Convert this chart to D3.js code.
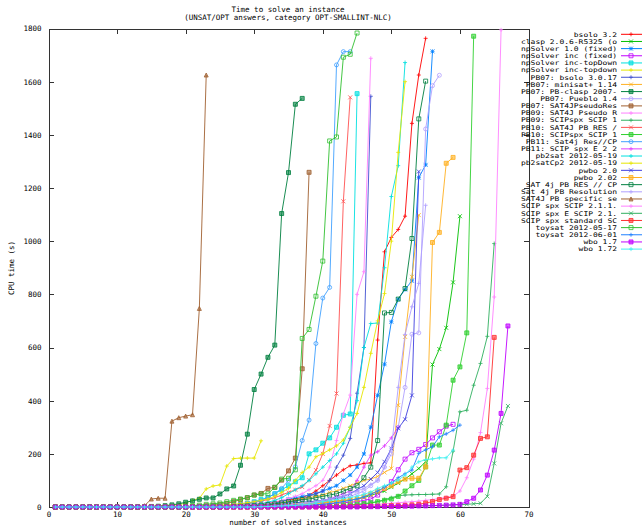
<!DOCTYPE html>
<html>
<head>
<meta charset="utf-8">
<script src="https://cdn.jsdelivr.net/npm/d3@7"></script>
<style>
  body { margin: 0; background: #fff; }
  svg text { font-family: "DejaVu Sans Mono", monospace; font-size: 7.5px; fill: #000; }
</style>
</head>
<body>
<svg id="chart" width="642" height="528"></svg>
<script>
// solver names, in key order
var solvers = [
  "bsolo 3.2", "clasp 2.0.6-R5325 (o", "npSolver 1.0 (fixed)", "npSolver inc (fixed)",
  "npSolver inc-topDown", "npSolver inc-topdown", "PB07: bsolo 3.0.17", "PB07: minisat+ 1.14",
  "PB07: PB-clasp 2007-", "PB07: Pueblo 1.4", "PB07: SAT4JPseudoRes", "PB09: SAT4J Pseudo R",
  "PB09: SCIPspx SCIP 1", "PB10: SAT4J PB RES /", "PB10: SCIPspx SCIP 1", "PB11: Sat4j Res//CP",
  "PB11: SCIP spx E 2 2", "pb2sat 2012-05-19", "pb2satCp2 2012-05-19", "pwbo 2.0",
  "pwbo 2.02", "SAT 4j PB RES // CP", "Sat 4j PB Resolution", "SAT4J PB specific se",
  "SCIP spx SCIP 2.1.1.", "SCIP spx E SCIP 2.1.", "SCIP spx standard SC", "toysat 2012-05-17",
  "toysat 2012-06-01", "wbo 1.7", "wbo 1.72"
];

var colors = [
  "#ff0000", "#00c000", "#0080ff", "#c000ff", "#00e0e0", "#e6e600", "#4050d0", "#ffb020",
  "#008040", "#b0a0ff", "#a06030", "#ff80ff", "#30b060", "#ff5050", "#30d030", "#40a0ff",
  "#e040ff", "#00e0e0", "#e6e600", "#4040e0", "#ffb020", "#008040", "#b0a0ff", "#a06030",
  "#ff80ff", "#30b060", "#ff3030", "#30c030", "#2080ff", "#c000ff", "#40f0f0"
];

var markers = [
  "plus", "cross", "star", "sqOpen", "sqFill", "plus", "plus", "cross",
  "sqFill", "circle", "sqFill", "plus", "plus", "cross", "sqFill", "circle",
  "plus", "plus", "plus", "cross", "sqFill", "sqOpen", "plus", "triFill",
  "plus", "cross", "sqFill", "sqOpen", "plus", "sqFill", "plus"
];

// CPU time of the i-th solved instance (x = 1, 2, 3 ...)
var bsolo32 = [0,0,0,0,0,0,0,0,0,0,0,0,0,0,0,0,0,0,0,0,
  1,1,2,2,3,4,5,6,8,10, 12,15,18,22,26,30,36,45,60,80,
  100,120,140,155,158,164,166, 628,960,1014,1044,1094,1443,1625,1763];
var clasp = [0,0,0,0,0,0,0,0,0,0,0,0,0,0,0,0,0,0,0,0,0,0,0,0,0,1,1,2,2,3,
  4,5,6,7,8,10,12,14,16,18, 20,22,24,27,30,36,44,52,60,75,
  90,105,125,145,170, 536,594,674,845,1094];
var npSolver10 = [0,0,0,0,0,0,0,0,0,0,0,0,0,0,0,0,0,0,0,0,0,0,0,0,0,
  1,2,3,4,6,8,10,14,20,30, 35,40,45,50,60,70,80,100,120,150,
  200,300,420,537,697,782,818,851,1239,1287,1714];
var npSolverInc = [0,0,0,0,0,0,0,0,0,0,0,0,0,0,0,0,0,0,0,0,0,0,0,0,0,0,0,0,0,0,
  1,1,2,2,3,4,5,6,8,10,12,14,16,18,
  20,25,30,45,70,95,140,180,204,217,235,260,283,304,311];
var npSolverTopDown = [0,0,0,0,0,0,0,0,0,0,0,0,0,0,0,0,0,0,0,0,
  1,1,2,3,4,6,8,10,14,20, 28,36,50,65,80,95,110,200,215,240,
  260,300,345,350,1555];
var npSolverTopdown = [0,0,0,0,0,0,0,0,0,0,0,0,0,0,
  3,4,5,6,8,15,25,33, 68,79,83,154,182,184,184,184,249];
var bsolo3017 = [0,0,0,0,0,0,0,0,0,0,0,0,0,0,0,0,0,0,0,0,0,0,0,0,0,
  1,2,3,4,5,6,8,10,13,17, 22,30,40,50,
  60,100,150,195,258,428,600,1545];
var minisat = [0,0,0,0,0,0,0,0,0,0,0,0,0,0,0,0,0,0,0,0,0,0,0,0,0,
  1,2,3,4,5,7,9,12,15,20, 25,30,35,40,45,55,60,70,80,90,
  100,105,115,130,145,383,640,866,1098];
var pbClasp07 = [0,0,0,0,0,0,0,0,0,0,0,0,0,0,
  2,3,5,8,12, 18,23,29,34,34,49,68,79,
  157,274,442,500,563,609,1104,1258,1515,1537];
var pueblo = [0,0,0,0,0,0,0,0,0,0,0,0,0,0,0,0,0,0,0,0,0,0,0,0,0,0,0,0,
  1,2,3,4,5,6,8,10,12,15, 18,22,26,30,35,40,50,60,80,
  100,150,200,300,450,650,655,1422,1585,1624];
var sat4jPseudoRes07 = [0,0,0,0,0,0,0,0,0,0,0,0,0,0,0,0,0,0,0,0,
  2,3,5,7,10,14,20,28,35,45, 51,70,74,101,136,184,520,1259];
var sat4jPseudo09 = [0,0,0,0,0,0,0,0,0,0,0,0,0,0,0,0,0,0,0,0,0,0,
  1,2,3,4,5,6,8,10,13,16, 20,25,32,40,50,65,80,
  100,150,250,350,421,800,885,1688];
var scipspx09 = [0,0,0,0,0,0,0,0,0,0,0,0,0,0,0,0,0,0,0,0,0,0,0,0,0,0,0,0,0,0,0,0,0,0,0,
  1,1,2,2,3,3,4,5,6,8, 10,15,20,28,35,42,
  45,46,47,47,48,49,76,210,358,364,458,540,642,991];
var sat4jRes10 = [0,0,0,0,0,0,0,0,0,0,0,0,0,0,0,0,0,0,0,0,
  1,2,3,4,5,6,8,10,13,17, 22,28,35,45,55,65,75,
  101,139,200,305,427,1150,1541];
var scipspx10 = [0,0,0,0,0,0,0,0,0,0,0,0,0,0,0,0,0,0,0,0,0,0,0,0,0,0,0,0,0,0,0,0,0,0,0,
  1,1,2,2,3,4,5,6,8,10, 13,16,20,25,30,40,60,80,100,
  151,233,233,308,477,527,655,1771];
var sat4jResCP11 = [0,0,0,0,0,0,0,0,0,0,0,0,0,0,0,0,0,0,0,0,
  1,2,3,4,5,6,8,10,13,17, 25,35,50,70,100,151,
  250,327,615,786,826,1663,1713,1713];
var scipSpxE11 = [0,0,0,0,0,0,0,0,0,0,0,0,0,0,0,0,0,0,0,0,0,0,0,0,0,0,0,0,0,0,
  1,2,3,4,5,6,8,10,14,20, 30,40,50,60,100,150,195,208,230,260,300];
var pb2sat = [0,0,0,0,0,0,0,0,0,0,0,0,0,0,0,0,0,0,0,0,0,0,0,0,0,
  1,2,3,5,8,12,18,25,35, 50,65,80,100,125,150,175,200,240,300,
  400,600,690,692,900,1168,1284,1672];
var pb2satCp2 = [0,0,0,0,0,0,0,0,0,0,0,0,0,0,0,0,0,0,0,0,
  1,2,3,4,6,8,10,13,16, 20,25,30,40,55,70,100,130,150,189,
  201,215,230,252,300,352,450,578,700,803,1000,1334,1600];
var pwbo20 = [0,0,0,0,0,0,0,0,0,0,0,0,0,0,0,0,0,0,0,0,0,0,0,0,0,
  1,1,2,3,4,5,6,8,10,13, 16,18,20,22,25,30,35,40,50,65,
  80,105,130,170,220,296,330,420,1262];
var pwbo202 = [0,0,0,0,0,0,0,0,0,0,0,0,0,0,0,0,0,0,0,0,0,0,0,0,0,0,0,0,0,0,
  1,2,3,4,5,6,8,10,12,15, 18,21,24,27,30,40,50,60,70,80,
  95,105,108,108,151,995,1033,1293,1315];
var sat4jResCP = [0,0,0,0,0,0,0,0,0,0,0,0,0,0,0,0,0,0,0,0,0,0,0,0,0,
  1,2,3,4,5,7,9,12,16,20, 24,28,30,35,40,45,50,60,70,80,
  110,150,250,730,732,782,822,1010,1460,1602];
var sat4jResolution = [0,0,0,0,0,0,0,0,0,0,0,0,0,0,0,0,0,0,0,0,0,0,0,0,0,0,0,0,
  1,2,3,4,5,6,8,10,13,16, 20,25,30,36,42,50,60,70,85,
  100,150,220,450,649,753,841,1135];
var sat4jSpecific = [0,0,0,0,0,0,0,0,0,0,0,0,0,
  5, 30,33,33,323,336,342,347,747,1625];
var scipSpx211 = [0,0,0,0,0,0,0,0,0,0,0,0,0,0,0,0,0,0,0,0,0,0,0,0,0,0,0,0,0,0,0,0,0,0,0,0,0,0,0,0,
  1,2,3,4,5,6,8,10,12,14, 16,18,20,22,25,28,32,36,40,
  60,110,180,280,446,790,1795];
var scipSpxE21 = [0,0,0,0,0,0,0,0,0,0,0,0,0,0,0,0,0,0,0,0,0,0,0,0,0,0,0,0,0,0,0,0,0,0,0,0,0,0,0,0,0,0,0,0,0,
  1,1,2,2,2,3,3,4,4,5, 5,6,7,8,9,10,12,14, 40,164,315,380];
var scipSpxStd = [0,0,0,0,0,0,0,0,0,0,0,0,0,0,0,0,0,0,0,0,0,0,0,0,0,0,0,0,0,0,0,0,0,0,0,0,0,0,0,0,
  1,1,1,2,2,2,3,3,4,5, 5,6,8,10,15,20,28,33,39,
  139,148,195,258,264,638];
var toysat0517 = [0,0,0,0,0,0,0,0,0,0,0,0,0,0,0,0,0,0,0,0,
  5,7,10,12,15,20,25,30,35,
  45,49,50,74,105,108,140,634,668,793,925,1377,1392,1692,1703,1783];
var toysat0601 = [0,0,0,0,0,0,0,0,0,0,0,0,0,0,0,0,0,0,0,0,0,0,0,0,0,0,0,0,0,0,
  1,1,2,2,3,4,5,6,8,10, 13,16,20,25,30,38,48,60,75,90,
  110,125,139,202,215,227,264,275,289,308];
var wbo17 = [0,0,0,0,0,0,0,0,0,0,0,0,0,0,0,0,0,0,0,0,0,0,0,0,0,0,0,0,0,0,0,0,0,0,0,0,0,0,0,0,0,0,0,0,0,
  1,1,1,2,2,2,3,3,4,4,5,6,7,8, 10,20,33,64,120,214,352,681];
var wbo172 = [0,0,0,0,0,0,0,0,0,0,0,0,0,0,0,0,0,0,0,0,0,0,0,0,0,0,0,0,0,0,
  1,2,3,4,5,6,8,10,15,20, 24,28,32,36,40,48,56,70,80,90,
  101,120,150,170,178,181,185,185,214];

var times = [bsolo32, clasp, npSolver10, npSolverInc, npSolverTopDown, npSolverTopdown,
  bsolo3017, minisat, pbClasp07, pueblo, sat4jPseudoRes07, sat4jPseudo09, scipspx09,
  sat4jRes10, scipspx10, sat4jResCP11, scipSpxE11, pb2sat, pb2satCp2, pwbo20, pwbo202,
  sat4jResCP, sat4jResolution, sat4jSpecific, scipSpx211, scipSpxE21, scipSpxStd,
  toysat0517, toysat0601, wbo17, wbo172];

var xTicks = [0, 10, 20, 30, 40, 50, 60, 70];
var yTicks = [0, 200, 400, 600, 800, 1000, 1200, 1400, 1600, 1800];

(function() {
  var svg = d3.select("#chart");
  var pl = 48.5, pr = 528.5, pt = 28.5, pb = 507;

  var x = d3.scaleLinear().domain([0, 70]).range([pl, pr]);
  var y = d3.scaleLinear().domain([0, 1800]).range([pb, pt]);

  // titles
  svg.append("text").attr("x", 288).attr("y", 12).attr("text-anchor", "middle")
    .text("Time to solve an instance");
  svg.append("text").attr("x", 288).attr("y", 20).attr("text-anchor", "middle")
    .text("(UNSAT/OPT answers, category OPT-SMALLINT-NLC)");
  svg.append("text").attr("x", 288).attr("y", 525).attr("text-anchor", "middle")
    .text("number of solved instances");
  svg.append("text").attr("transform", "translate(14,268) rotate(-90)")
    .attr("text-anchor", "middle").text("CPU time (s)");

  // axes, ticks pointing inward like gnuplot
  svg.append("g").attr("transform", "translate(0," + pb + ")")
    .call(d3.axisBottom(x).tickValues(xTicks).tickSize(-5).tickSizeOuter(0).tickPadding(5));
  svg.append("g").attr("transform", "translate(" + pl + ",0)")
    .call(d3.axisLeft(y).tickValues(yTicks).tickSize(-5).tickSizeOuter(0).tickPadding(7)
      .tickFormat(d3.format("d")));
  svg.append("g").attr("transform", "translate(0," + pt + ")")
    .call(d3.axisTop(x).tickValues(xTicks).tickSize(-5).tickSizeOuter(0).tickFormat(""));
  svg.append("g").attr("transform", "translate(" + pr + ",0)")
    .call(d3.axisRight(y).tickValues(yTicks).tickSize(-5).tickSizeOuter(0).tickFormat(""));
  svg.selectAll(".tick text").style("font-family", "DejaVu Sans Mono").style("font-size", "7.5px");
  svg.selectAll(".domain, .tick line").attr("stroke", "#333").attr("shape-rendering", "crispEdges");

  // marker shapes
  function markerPath(type, cx, cy) {
    var r = 2;
    var p = d3.path();
    if (type == "plus" || type == "star") {
      p.moveTo(cx - r, cy); p.lineTo(cx + r, cy);
      p.moveTo(cx, cy - r); p.lineTo(cx, cy + r);
    }
    if (type == "cross" || type == "star") {
      p.moveTo(cx - r, cy - r); p.lineTo(cx + r, cy + r);
      p.moveTo(cx - r, cy + r); p.lineTo(cx + r, cy - r);
    }
    if (type == "sqOpen" || type == "sqFill") {
      p.rect(cx - r, cy - r, 2 * r, 2 * r);
    }
    if (type == "circle") {
      p.moveTo(cx + r, cy); p.arc(cx, cy, r, 0, 2 * Math.PI);
    }
    if (type == "triFill") {
      p.moveTo(cx, cy - r); p.lineTo(cx + r, cy + r); p.lineTo(cx - r, cy + r); p.closePath();
    }
    return p.toString();
  }

  var line = d3.line()
    .x(function(d, i) { return x(i + 1); })
    .y(function(d) { return y(d); });

  times.forEach(function(vals, k) {
    var g = svg.append("g");
    var c = colors[k], m = markers[k];
    var filled = (m == "sqFill" || m == "triFill");
    g.append("path").attr("d", line(vals)).attr("fill", "none")
      .attr("stroke", c).attr("stroke-width", 0.9);
    g.selectAll("path.pt").data(vals).enter().append("path").attr("class", "pt")
      .attr("d", function(d, i) { return markerPath(m, x(i + 1), y(d)); })
      .attr("fill", filled ? c : "none").attr("fill-opacity", 0.6)
      .attr("stroke", c).attr("stroke-width", 0.8);

    // key entry (smaller glyphs stretched to the key width so rows do not collide)
    var ky = 34.3 + 7.16 * k;
    svg.append("text").attr("x", 617).attr("y", ky).attr("dy", "0.35em")
      .attr("text-anchor", "end").style("font-size", "6.4px")
      .attr("textLength", solvers[k].length * 4.8).attr("lengthAdjust", "spacingAndGlyphs")
      .text(solvers[k]);
    svg.append("line").attr("x1", 621).attr("x2", 642).attr("y1", ky).attr("y2", ky)
      .attr("stroke", c).attr("stroke-width", 1);
    svg.append("path").attr("d", markerPath(m, 631, ky))
      .attr("fill", filled ? c : "none").attr("fill-opacity", 0.6)
      .attr("stroke", c).attr("stroke-width", 0.8);
  });
})();
</script>
</body>
</html>
